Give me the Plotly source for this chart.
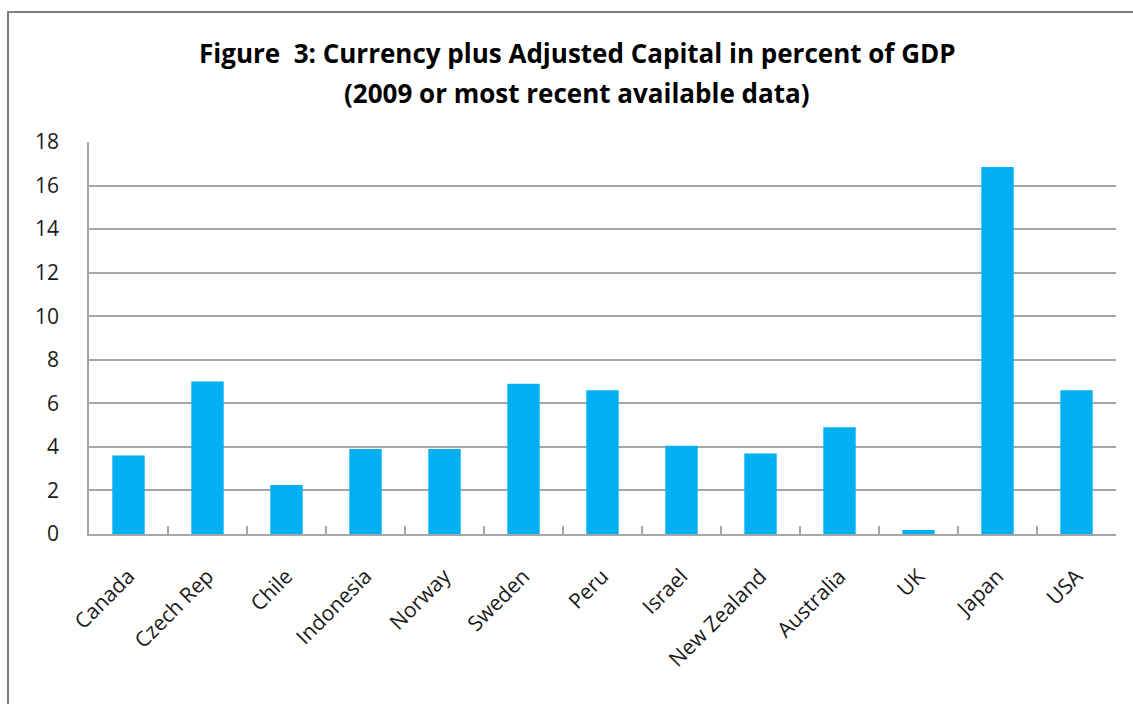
import plotly.graph_objects as go

countries = ["Canada", "Czech Rep", "Chile", "Indonesia", "Norway", "Sweden", "Peru",
             "Israel", "New Zealand", "Australia", "UK", "Japan", "USA"]
currency_plus_capital = [3.6, 7.0, 2.25, 3.9, 3.9, 6.9, 6.6, 4.05, 3.7, 4.9, 0.18, 16.85, 6.6]
y_ticks = [0, 2, 4, 6, 8, 10, 12, 14, 16, 18]
title_lines = ["Figure  3: Currency plus Adjusted Capital in percent of GDP",
               "(2009 or most recent available data)"]

FONT = "Open Sans"
GRID = "#a6a6a6"
W, H = 1133, 704
L, R, T, B = 89, 17, 142, 170
PH = H - T - B

fig = go.Figure(
    go.Bar(
        x=countries,
        y=currency_plus_capital,
        marker=dict(color="#00b0f0", line=dict(width=0)),
        width=0.41,
    )
)

# two-line heading, placed as separate annotations for wider line spacing
title_annotations = [
    dict(text=f"<b>{line}</b>", xref="paper", yref="paper",
         x=(577 - L) / (W - L - R), y=(H - B - yc) / PH,
         xanchor="center", yanchor="middle", showarrow=False,
         font=dict(family=FONT, size=26, color="#000000"))
    for line, yc in zip(title_lines, [53, 93])
]

fig.update_layout(
    width=W,
    height=H,
    margin=dict(l=L, r=R, t=T, b=B),
    paper_bgcolor="white",
    plot_bgcolor="white",
    showlegend=False,
    font=dict(family=FONT, color="#1a1a1a"),
    annotations=title_annotations,
    xaxis=dict(
        showline=True, linecolor=GRID, linewidth=1.5,
        ticks="inside", ticklen=8, tickcolor=GRID, tickwidth=1.5,
        tickson="boundaries", tickangle=-45, ticklabelstandoff=20,
        tickfont=dict(family=FONT, size=21, color="#1a1a1a"),
        showgrid=False,
    ),
    yaxis=dict(
        range=[0, 18], tickvals=y_ticks,
        showline=True, linecolor=GRID, linewidth=1.5,
        showgrid=True, gridcolor=GRID, gridwidth=1.5,
        ticks="", ticklabelstandoff=24,
        tickfont=dict(family=FONT, size=21, color="#1a1a1a"),
        zeroline=False,
    ),
    shapes=[
        dict(type="rect", xref="paper", yref="paper",
             x0=-81 / (W - L - R), x1=1.3, y0=-0.6, y1=(H - 12 - B) / PH,
             line=dict(color="#7f7f7f", width=2), fillcolor="rgba(0,0,0,0)"),
    ],
)

fig.write_html("out.html")
